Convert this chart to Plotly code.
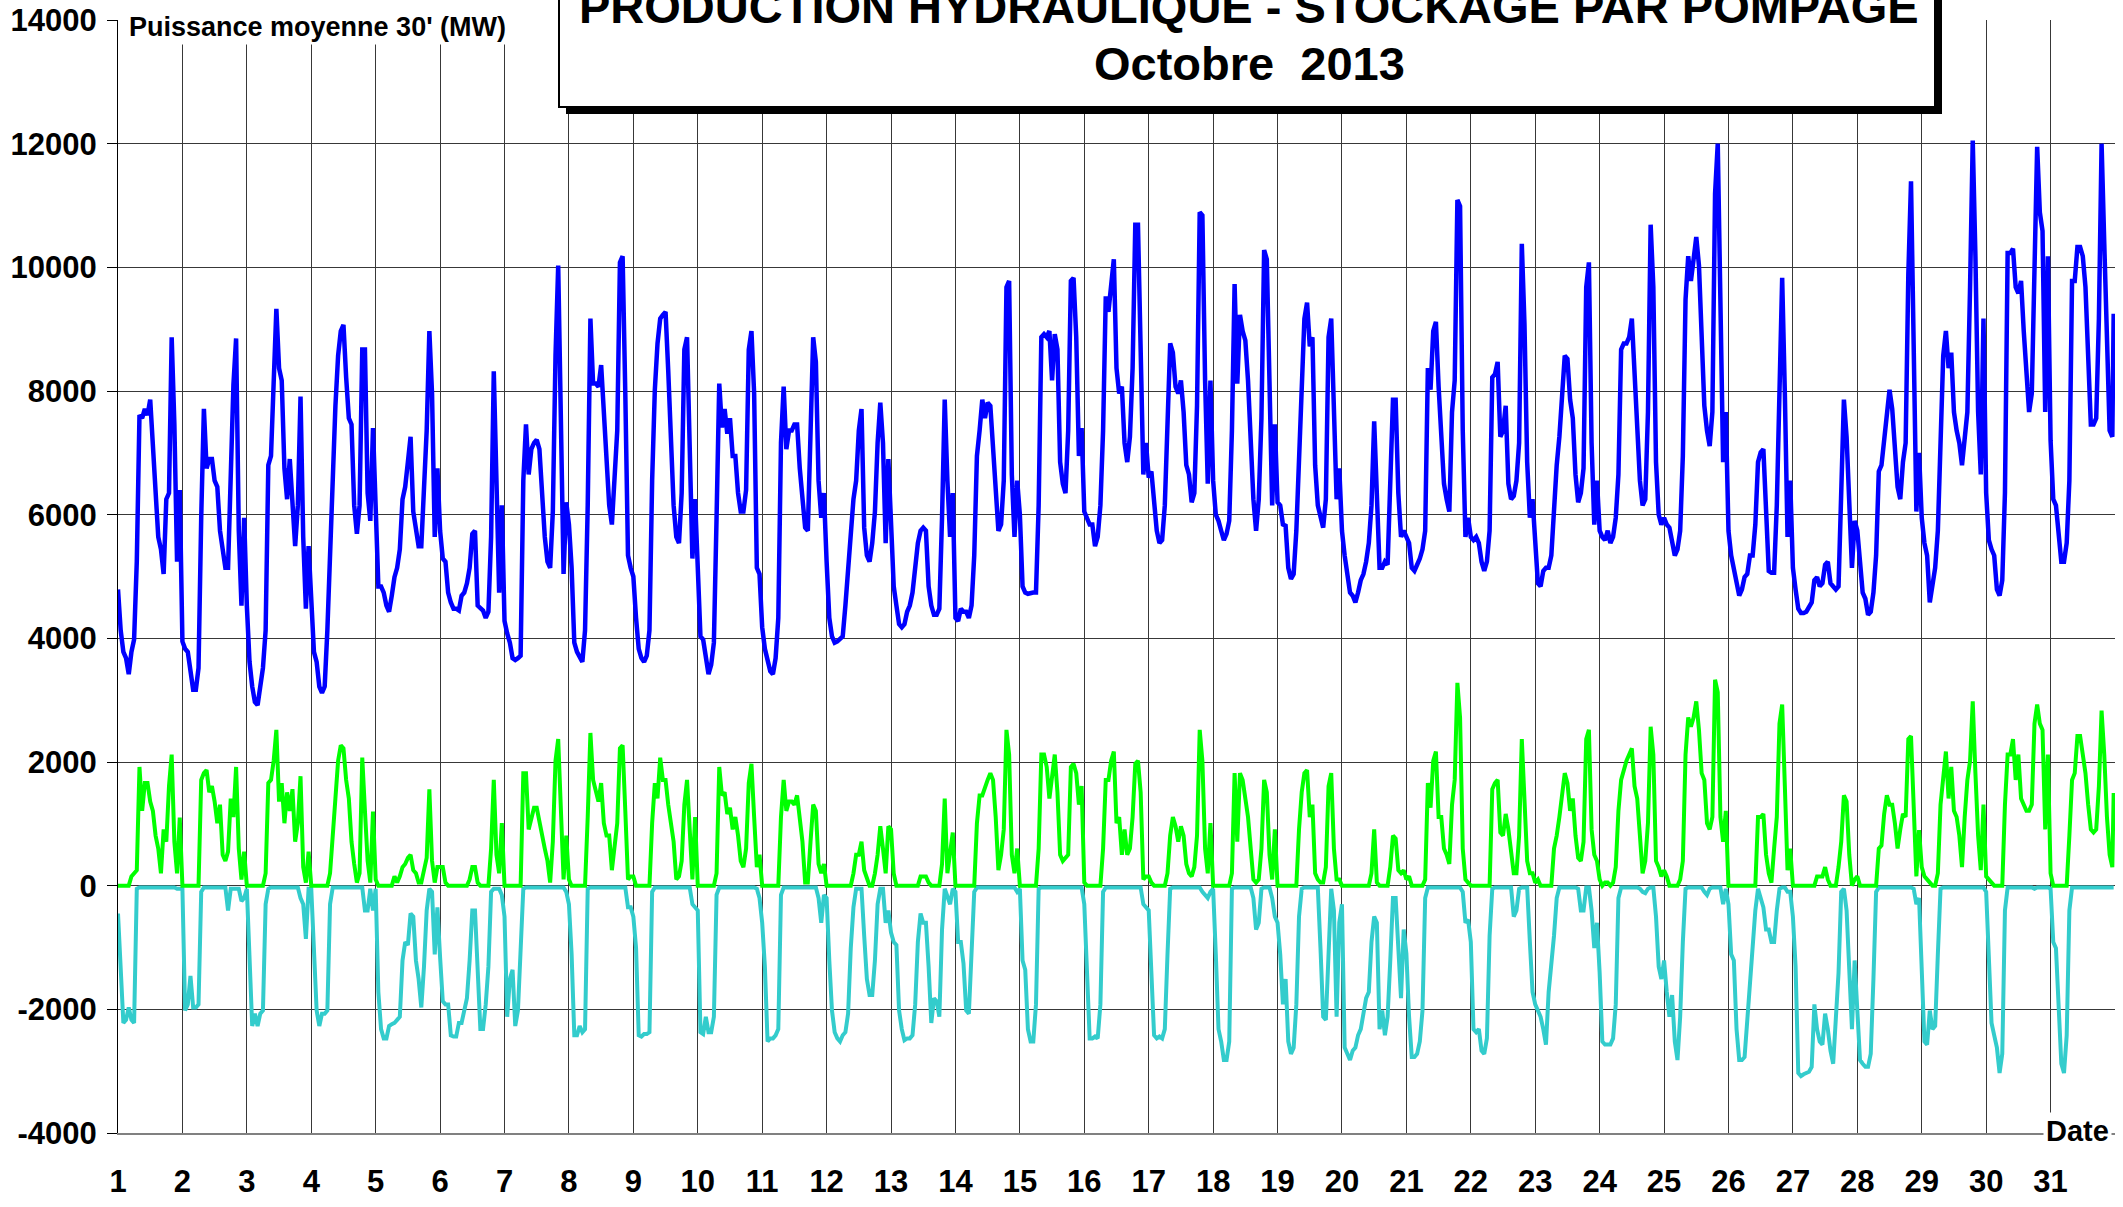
import plotly.graph_objects as go

# Octobre 2013 - valeurs horaires (MW), une ligne par jour, 0h..23h
jours = list(range(1, 32))
heures = list(range(24))

hydraulique_mw = [
    [4790, 4130, 3780, 3680, 3420, 3780, 3980, 5240, 7610, 7560, 7710, 7610, 7860, 7160, 6250, 5640, 5440, 5040, 6250, 6350, 8870, 7460, 5240, 6400],
    [3950, 3830, 3780, 3520, 3170, 3170, 3520, 5950, 7710, 6750, 6900, 6900, 6550, 6450, 5740, 5440, 5140, 5140, 7000, 8100, 8850, 5740, 4530, 5950],
    [4530, 3620, 3220, 2970, 2920, 3220, 3520, 4130, 6800, 6950, 7960, 9330, 8370, 8170, 6750, 6250, 6900, 6150, 5490, 6150, 7910, 5640, 4480, 5490],
    [4480, 3780, 3620, 3220, 3120, 3220, 4130, 5140, 6550, 7760, 8570, 8970, 9070, 8220, 7560, 7460, 6150, 5690, 6150, 8670, 8670, 6350, 5900, 7400],
    [6150, 4840, 4840, 4740, 4530, 4430, 4690, 4990, 5140, 5440, 6250, 6450, 6850, 7260, 6050, 5740, 5490, 5490, 6450, 7360, 8970, 7960, 5640, 6750],
    [5740, 5290, 5240, 4740, 4580, 4480, 4480, 4450, 4690, 4740, 4890, 5140, 5690, 5740, 4530, 4480, 4450, 4330, 4430, 5640, 8320, 6550, 4740, 6150],
    [4280, 4080, 3930, 3680, 3650, 3680, 3720, 6550, 7460, 6650, 7060, 7160, 7210, 7060, 6200, 5640, 5240, 5140, 6050, 8570, 10030, 7660, 5040, 6200],
    [5840, 5140, 3930, 3780, 3680, 3620, 4130, 6150, 9170, 8120, 8120, 8070, 8420, 7610, 6750, 6150, 5840, 6600, 7360, 10080, 10180, 7960, 5340, 5140],
    [5000, 4330, 3830, 3680, 3620, 3720, 4130, 6550, 8020, 8770, 9170, 9230, 9280, 8320, 6950, 6150, 5640, 5540, 6350, 8670, 8870, 7160, 5290, 6250],
    [4990, 4030, 3980, 3720, 3420, 3570, 3930, 5950, 8120, 7410, 7710, 7310, 7560, 6950, 6950, 6350, 6050, 6050, 6400, 8670, 8970, 7960, 5140, 5040],
    [4180, 3830, 3620, 3470, 3420, 3680, 4330, 7160, 8070, 7060, 7360, 7360, 7460, 7460, 6750, 6150, 5790, 5740, 7160, 8870, 8470, 6550, 5950, 6350],
    [5240, 4330, 4030, 3930, 3950, 3980, 4030, 4530, 5140, 5740, 6250, 6550, 7360, 7710, 5790, 5340, 5240, 5540, 6050, 7160, 7810, 7160, 5540, 6900],
    [5740, 4840, 4530, 4230, 4180, 4230, 4430, 4530, 4740, 5140, 5540, 5740, 5790, 5740, 4840, 4530, 4380, 4380, 4480, 5950, 7860, 6550, 5640, 6350],
    [4330, 4280, 4480, 4430, 4430, 4330, 4530, 5340, 6950, 7360, 7860, 7560, 7810, 7760, 7060, 6250, 5740, 5840, 6550, 9680, 9780, 6650, 5640, 6550],
    [6000, 4840, 4740, 4720, 4740, 4740, 4740, 6150, 8870, 8920, 8870, 8970, 8170, 8920, 8670, 6850, 6500, 6350, 7360, 9780, 9830, 8870, 6950, 7400],
    [6050, 5950, 5840, 5840, 5490, 5640, 6150, 7360, 9530, 9280, 9780, 10130, 8370, 7960, 8070, 7160, 6850, 7260, 8370, 10690, 10690, 8670, 6650, 7160],
    [6600, 6700, 6250, 5740, 5540, 5590, 6150, 7360, 8770, 8620, 8070, 7960, 8170, 7660, 6800, 6650, 6200, 6350, 7760, 10890, 10840, 8170, 6500, 8170],
    [6550, 6000, 5900, 5740, 5590, 5690, 5900, 7360, 9730, 8120, 9230, 8970, 8820, 8170, 7160, 6250, 5740, 6250, 7560, 10280, 10130, 8070, 6150, 7460],
    [6200, 6150, 5840, 5820, 5140, 4960, 5040, 5740, 6850, 8170, 9170, 9430, 8720, 8870, 6800, 6150, 5950, 5790, 6250, 8870, 9170, 7660, 6250, 6750],
    [5740, 5340, 5040, 4740, 4690, 4580, 4740, 4940, 5040, 5240, 5540, 6150, 7510, 6150, 5140, 5140, 5240, 5190, 6550, 7860, 7860, 6350, 5640, 5740],
    [5640, 5540, 5140, 5090, 5190, 5290, 5440, 5740, 8370, 8020, 8970, 9120, 8070, 7360, 6500, 6250, 6050, 7660, 8170, 11090, 10990, 7360, 5640, 5950],
    [5640, 5590, 5640, 5540, 5240, 5090, 5240, 5740, 8220, 8270, 8470, 7260, 7360, 7760, 6500, 6250, 6300, 6550, 7160, 10380, 9070, 6850, 5950, 6250],
    [5540, 4890, 4840, 5090, 5140, 5140, 5340, 6250, 6800, 7260, 7960, 8570, 8520, 7860, 7560, 6650, 6200, 6350, 6750, 9680, 10080, 7160, 5840, 6550],
    [5740, 5640, 5590, 5740, 5540, 5640, 5950, 6650, 8670, 8770, 8770, 8870, 9170, 8270, 7460, 6550, 6150, 6250, 7660, 10690, 9680, 6850, 6000, 5840],
    [5950, 5840, 5790, 5540, 5340, 5440, 5740, 6950, 9480, 10180, 9780, 10130, 10490, 10030, 8970, 7760, 7360, 7110, 7660, 11190, 12000, 9170, 6850, 7660],
    [5740, 5340, 5140, 4940, 4690, 4790, 4990, 5040, 5340, 5340, 5840, 6850, 7010, 7060, 5950, 5090, 5060, 5060, 6150, 8170, 9830, 7960, 5640, 6550],
    [5140, 4790, 4480, 4410, 4410, 4430, 4510, 4580, 4940, 4990, 4840, 4890, 5190, 5240, 4890, 4840, 4790, 4840, 6150, 7860, 7260, 6050, 5140, 5900],
    [5740, 5240, 4740, 4640, 4380, 4430, 4740, 5340, 6700, 6800, 7160, 7510, 8020, 7710, 7060, 6450, 6250, 6850, 7160, 9880, 11390, 8670, 6050, 7000],
    [5950, 5540, 5340, 4580, 4840, 5140, 5740, 7460, 8570, 8970, 8370, 8620, 7660, 7360, 7160, 6800, 7260, 7660, 9680, 12050, 10180, 7660, 6650, 9170],
    [6350, 5590, 5440, 5340, 4790, 4690, 4940, 6350, 10230, 10230, 10300, 9680, 9580, 9780, 8970, 8170, 7660, 7960, 10440, 11950, 10890, 10590, 7660, 10180],
    [7200, 6250, 6150, 5740, 5240, 5240, 5540, 6550, 9780, 9780, 10330, 10330, 10180, 9680, 8570, 7460, 7460, 7560, 9170, 12000, 10390, 8670, 7360, 7260],
]

turbinage_step_mw = [
    [0, 0, 0, 0, 0, 150, 200, 250, 1920, 1210, 1660, 1660, 1360, 1210, 810, 600, 200, 910, 710, 1610, 2120, 710, 200, 1100],
    [0, 0, 0, 0, 0, 0, 0, 1710, 1820, 1870, 1510, 1610, 1360, 1010, 1310, 500, 400, 550, 1410, 1110, 1920, 600, 100, 550],
    [0, 0, 0, 0, 0, 0, 0, 200, 1660, 1710, 2020, 2520, 1360, 1660, 1010, 1510, 1210, 1560, 710, 1010, 1770, 300, 50, 550],
    [0, 0, 0, 0, 0, 0, 0, 200, 710, 1410, 2020, 2270, 2220, 1710, 1410, 710, 350, 50, 200, 2070, 1210, 400, 50, 1200],
    [100, 0, 0, 0, 0, 0, 0, 150, 50, 150, 300, 350, 450, 500, 250, 200, 50, 50, 250, 450, 1560, 400, 50, 300],
    [300, 300, 50, 0, 0, 0, 0, 0, 0, 0, 0, 100, 300, 300, 50, 0, 0, 0, 0, 600, 1710, 500, 200, 1010],
    [0, 0, 0, 0, 0, 0, 0, 1820, 1820, 910, 1110, 1260, 1260, 1010, 810, 600, 400, 50, 710, 2020, 2370, 1310, 100, 810],
    [100, 0, 0, 0, 0, 0, 0, 1110, 2470, 1710, 1510, 1360, 1660, 1010, 810, 810, 250, 600, 1010, 2220, 2270, 1210, 100, 150],
    [150, 0, 0, 0, 0, 0, 0, 1010, 1660, 1410, 2070, 1710, 1710, 1310, 1010, 710, 100, 150, 400, 1310, 1710, 910, 100, 1110],
    [0, 0, 0, 0, 0, 0, 0, 200, 1920, 1460, 1510, 1160, 1260, 910, 1110, 810, 400, 300, 600, 1660, 1970, 1110, 300, 500],
    [0, 0, 0, 0, 0, 0, 0, 1110, 1710, 1210, 1360, 1360, 1310, 1460, 1110, 710, 50, 50, 710, 1310, 1210, 350, 200, 350],
    [0, 0, 0, 0, 0, 0, 0, 0, 0, 0, 200, 500, 500, 710, 250, 100, 0, 0, 200, 500, 960, 600, 200, 960],
    [910, 200, 0, 0, 0, 0, 0, 0, 0, 0, 0, 150, 150, 150, 50, 0, 0, 0, 0, 350, 1410, 200, 600, 860],
    [0, 0, 0, 0, 0, 0, 0, 0, 1010, 1460, 1460, 1610, 1710, 1820, 1710, 1110, 250, 500, 910, 2520, 2120, 500, 200, 600],
    [0, 0, 0, 0, 0, 0, 0, 600, 2120, 2120, 1920, 1410, 1820, 2120, 1510, 500, 400, 450, 500, 1920, 1970, 1820, 1310, 1610],
    [50, 0, 0, 0, 0, 0, 0, 600, 1710, 1710, 2020, 2170, 1010, 1110, 500, 910, 500, 600, 1110, 1970, 2020, 1510, 100, 150],
    [150, 50, 0, 0, 0, 0, 0, 200, 810, 1110, 960, 710, 960, 810, 350, 200, 150, 300, 810, 2520, 2020, 600, 200, 1010],
    [0, 0, 0, 0, 0, 0, 0, 200, 1820, 710, 1820, 1710, 1410, 1110, 600, 100, 50, 100, 600, 1710, 1510, 500, 100, 910],
    [0, 0, 0, 0, 0, 0, 0, 0, 910, 1510, 1820, 1870, 1110, 1310, 200, 100, 50, 50, 300, 1610, 1820, 600, 100, 100],
    [0, 0, 0, 0, 0, 0, 0, 0, 0, 0, 0, 200, 910, 50, 0, 0, 0, 0, 300, 810, 760, 250, 200, 250],
    [100, 150, 0, 0, 0, 0, 0, 100, 1660, 1260, 2020, 2170, 1110, 1110, 600, 500, 350, 1310, 1710, 3280, 2720, 600, 100, 50],
    [0, 0, 0, 0, 0, 0, 0, 0, 1560, 1660, 1710, 860, 810, 1160, 910, 500, 200, 200, 810, 2370, 1410, 400, 200, 200],
    [50, 100, 0, 0, 0, 0, 0, 600, 810, 1110, 1460, 1820, 1660, 1210, 1410, 810, 450, 400, 710, 2370, 2520, 910, 500, 400],
    [100, 0, 50, 50, 0, 50, 300, 1210, 1710, 1870, 2020, 2120, 2220, 1610, 1410, 810, 200, 400, 1010, 2570, 2120, 400, 300, 150],
    [250, 150, 0, 0, 0, 0, 100, 400, 2120, 2720, 2570, 2720, 2980, 2520, 1820, 1710, 1010, 910, 1110, 3330, 3130, 1110, 710, 1210],
    [0, 0, 0, 0, 0, 0, 0, 0, 0, 0, 0, 1110, 1110, 1160, 500, 200, 50, 600, 1110, 2620, 2930, 1610, 250, 600],
    [0, 0, 0, 0, 0, 0, 0, 0, 0, 150, 150, 150, 300, 100, 0, 0, 0, 300, 710, 1460, 1360, 500, 0, 100],
    [150, 0, 0, 0, 0, 0, 0, 0, 600, 650, 1160, 1460, 1310, 1310, 1010, 600, 910, 1160, 1110, 2370, 2420, 1110, 150, 900],
    [300, 150, 100, 50, 0, 0, 200, 1310, 1710, 2170, 1410, 1920, 1210, 1110, 810, 300, 1110, 1710, 2020, 2980, 1820, 810, 250, 1310],
    [150, 100, 50, 0, 0, 0, 0, 1310, 2120, 2120, 2370, 1710, 2120, 1410, 1310, 1210, 1210, 1310, 2620, 2930, 2620, 2520, 910, 2120],
    [200, 0, 0, 0, 0, 0, 0, 810, 1710, 1820, 2420, 2420, 2120, 1820, 1310, 910, 860, 910, 1610, 2830, 2120, 1110, 500, 300],
]

pompage_step_mw = [
    [-450, -1510, -2220, -2170, -1970, -2170, -2220, -50, -30, -30, -30, -30, -30, -30, -30, -30, -30, -30, -30, -30, -30, -30, -50, -50],
    [-50, -2020, -1920, -1460, -1970, -1970, -1920, -100, -30, -30, -30, -30, -30, -30, -30, -30, -30, -400, -50, -50, -50, -50, -250, -200],
    [-50, -1410, -2270, -2070, -2270, -2070, -2020, -300, -50, -30, -30, -30, -30, -30, -30, -30, -30, -30, -30, -30, -200, -300, -860, -50],
    [-50, -910, -2020, -2270, -2070, -2070, -2020, -300, -30, -30, -30, -30, -30, -30, -30, -30, -30, -30, -30, -30, -400, -400, -50, -400],
    [-50, -1720, -2320, -2470, -2470, -2270, -2240, -2220, -2170, -2120, -1210, -910, -960, -450, -500, -1210, -1510, -1970, -1310, -400, -50, -100, -1110, -350],
    [-1160, -1870, -1920, -1920, -2420, -2440, -2440, -2220, -2220, -2020, -1820, -1210, -400, -400, -1210, -2320, -2320, -1920, -1310, -100, -50, -50, -50, -150],
    [-500, -2120, -1510, -1360, -2270, -2020, -910, -50, -30, -30, -30, -30, -30, -30, -30, -30, -30, -30, -30, -30, -30, -30, -30, -100],
    [-300, -1110, -2420, -2420, -2270, -2370, -2320, -50, -30, -30, -30, -30, -30, -30, -30, -30, -30, -30, -30, -30, -30, -30, -350, -350],
    [-500, -1000, -2420, -2440, -2400, -2400, -2370, -100, -30, -30, -30, -30, -30, -30, -30, -30, -30, -30, -30, -30, -30, -30, -300, -350],
    [-400, -2370, -2400, -2120, -2370, -2370, -2120, -150, -30, -30, -30, -30, -30, -30, -30, -30, -30, -30, -30, -30, -30, -30, -50, -200],
    [-600, -1310, -2520, -2470, -2470, -2420, -2320, -150, -30, -30, -30, -30, -30, -30, -30, -30, -30, -30, -30, -30, -30, -200, -600, -150],
    [-200, -1210, -2020, -2370, -2470, -2520, -2420, -2370, -2070, -1010, -350, -50, -50, -50, -810, -1510, -1770, -1770, -1210, -300, -50, -50, -600, -400],
    [-760, -910, -960, -2020, -2320, -2500, -2470, -2470, -2420, -1920, -910, -450, -600, -600, -1310, -2220, -1820, -1870, -2120, -710, -50, -200, -300, -50],
    [-100, -910, -910, -1260, -2020, -2070, -1110, -100, -30, -30, -30, -30, -30, -30, -30, -30, -30, -30, -30, -30, -30, -30, -30, -100],
    [-50, -1210, -1360, -2320, -2520, -2520, -1920, -50, -30, -30, -30, -30, -30, -30, -30, -30, -30, -30, -30, -30, -30, -30, -30, -30],
    [-300, -1410, -2470, -2470, -2440, -2470, -1920, -100, -30, -30, -30, -30, -30, -30, -30, -30, -30, -30, -30, -30, -30, -30, -300, -350],
    [-400, -1410, -2420, -2470, -2440, -2470, -2320, -1110, -50, -30, -30, -30, -30, -30, -30, -30, -30, -30, -30, -30, -100, -150, -200, -100],
    [-50, -1110, -2320, -2520, -2820, -2820, -2520, -50, -30, -30, -30, -30, -30, -30, -30, -200, -710, -600, -50, -30, -30, -30, -200, -500],
    [-600, -1110, -1920, -1510, -2520, -2720, -2620, -1920, -500, -50, -30, -30, -30, -30, -30, -30, -1010, -2120, -2170, -910, -50, -400, -2120, -600],
    [-300, -2620, -2720, -2820, -2670, -2620, -2420, -2320, -2070, -1820, -1720, -910, -500, -600, -2320, -2020, -2420, -2120, -1210, -200, -200, -1010, -1820, -710],
    [-1100, -2120, -2770, -2770, -2720, -2520, -2020, -200, -30, -30, -30, -30, -30, -30, -30, -30, -30, -30, -30, -30, -30, -100, -600, -550],
    [-910, -2320, -2370, -2320, -2670, -2720, -2470, -810, -50, -30, -30, -30, -30, -30, -30, -30, -500, -400, -50, -30, -30, -30, -910, -1720],
    [-1920, -2020, -2120, -2320, -2570, -1720, -1310, -810, -200, -30, -30, -30, -30, -30, -30, -30, -50, -400, -400, -30, -30, -400, -1010, -600],
    [-1410, -2520, -2570, -2570, -2570, -2470, -1920, -200, -30, -30, -30, -30, -30, -30, -30, -50, -100, -120, -50, -30, -30, -500, -1310, -1510],
    [-1210, -1720, -2120, -1770, -2520, -2820, -2120, -910, -50, -30, -30, -30, -30, -30, -30, -100, -150, -50, -30, -30, -30, -30, -300, -50],
    [-300, -1110, -1210, -2320, -2820, -2820, -2770, -2120, -1510, -910, -400, -50, -200, -350, -710, -710, -910, -910, -400, -50, -30, -30, -100, -100],
    [-500, -1310, -3030, -3080, -3050, -3030, -3010, -2930, -1920, -2320, -2520, -2570, -2070, -2320, -2670, -2880, -2120, -1410, -100, -50, -400, -1410, -2320, -1210],
    [-1920, -2820, -2880, -2930, -2930, -2720, -1510, -100, -30, -30, -30, -30, -30, -30, -30, -30, -30, -30, -30, -30, -30, -50, -300, -200],
    [-1500, -2520, -2570, -2020, -2320, -2270, -1110, -50, -30, -30, -30, -30, -30, -30, -30, -30, -30, -30, -30, -30, -30, -30, -30, -30],
    [-100, -1010, -2220, -2420, -2620, -3030, -2720, -400, -30, -30, -30, -30, -30, -30, -30, -30, -30, -30, -50, -30, -30, -30, -30, -30],
    [-50, -910, -1010, -2120, -2880, -3030, -2420, -400, -30, -30, -30, -30, -30, -30, -30, -30, -30, -30, -30, -30, -30, -30, -30, -30],
]

# derniere demi-heure du 31 (23h30) : hydraulique, turbinage, pompage
fin_31_octobre = [9250, 1500, -30]

y_ticks = [-4000, -2000, 0, 2000, 4000, 6000, 8000, 10000, 12000, 14000]
y_tick_labels = ["-4000", "-2000", "0", "2000", "4000", "6000", "8000", "10000", "12000", "14000"]

# geometrie de la page (px)
W, H = 2123, 1207
PLOT_L, PLOT_R, PLOT_T, PLOT_B = 118, 2115, 20, 1133
FONT = "Liberation Sans, Arial, sans-serif"
GRID = "#383838"


def px_x(px: float) -> float:
    return (px - PLOT_L) / (PLOT_R - PLOT_L)


def px_y(py: float) -> float:
    return (PLOT_B - py) / (PLOT_B - PLOT_T)


def flatten(rows, last):
    return [v for row in rows for v in row] + [last]


x_temps = [j + h / 24 for j in jours for h in heures] + [31 + 47 / 48]

fig = go.Figure()
fig.add_trace(go.Scatter(
    x=x_temps, y=flatten(pompage_step_mw, fin_31_octobre[2]),
    mode="lines", name="Pompage", line=dict(color="#33CCCC", width=4),
))
fig.add_trace(go.Scatter(
    x=x_temps, y=flatten(turbinage_step_mw, fin_31_octobre[1]),
    mode="lines", name="Turbinage STEP", line=dict(color="#00FF00", width=4),
))
fig.add_trace(go.Scatter(
    x=x_temps, y=flatten(hydraulique_mw, fin_31_octobre[0]),
    mode="lines", name="Hydraulique", line=dict(color="#0000FF", width=4.5),
))

# cadre du titre avec ombre portee
fig.add_shape(type="rect", xref="paper", yref="paper",
              x0=px_x(566), x1=px_x(1942), y0=px_y(114), y1=px_y(-30),
              fillcolor="black", line=dict(width=0), layer="above")
fig.add_shape(type="rect", xref="paper", yref="paper",
              x0=px_x(559), x1=px_x(1935), y0=px_y(107), y1=px_y(-30),
              fillcolor="white", line=dict(color="black", width=2), layer="above")

fig.add_annotation(text="PRODUCTION HYDRAULIQUE - STOCKAGE PAR POMPAGE",
                   xref="paper", yref="paper", x=px_x(1249), y=px_y(6),
                   xanchor="center", yanchor="middle", showarrow=False,
                   font=dict(family=FONT, size=47, color="black", weight="bold"))
fig.add_annotation(text="Octobre\u00a0 2013",
                   xref="paper", yref="paper", x=px_x(1249), y=px_y(63),
                   xanchor="center", yanchor="middle", showarrow=False,
                   font=dict(family=FONT, size=47, color="black", weight="bold"))
fig.add_annotation(text="Puissance moyenne 30' (MW)",
                   xref="paper", yref="paper", x=px_x(126), y=px_y(27),
                   xanchor="left", yanchor="middle", showarrow=False,
                   bgcolor="white", borderpad=2,
                   font=dict(family=FONT, size=27, color="black", weight="bold"))
fig.add_annotation(text="Date",
                   xref="paper", yref="paper", x=px_x(2112), y=px_y(1131),
                   xanchor="right", yanchor="middle", showarrow=False,
                   bgcolor="white", borderpad=2,
                   font=dict(family=FONT, size=29, color="black", weight="bold"))

fig.update_layout(
    width=W, height=H,
    margin=dict(l=PLOT_L, r=W - PLOT_R, t=PLOT_T, b=H - PLOT_B, pad=0),
    paper_bgcolor="white", plot_bgcolor="white",
    showlegend=False,
    font=dict(family=FONT, color="black"),
)
fig.update_xaxes(
    range=[1, 32], tickvals=jours, ticktext=[str(j) for j in jours],
    showgrid=True, gridcolor=GRID, gridwidth=1,
    showline=True, linecolor="#808080", linewidth=2,
    zeroline=False, ticks="", ticklabelstandoff=20, automargin=False,
    tickfont=dict(family=FONT, size=31, color="black", weight="bold"),
)
fig.update_yaxes(
    range=[-4000, 14000], tickvals=y_ticks, ticktext=y_tick_labels,
    showgrid=True, gridcolor=GRID, gridwidth=1,
    showline=True, linecolor="black", linewidth=1,
    zeroline=False, ticks="outside", ticklen=10, tickcolor="black",
    ticklabelstandoff=4, automargin=False,
    tickfont=dict(family=FONT, size=31, color="black", weight="bold"),
)

# la page html a une marge de 8 px par defaut : on la supprime
fig.write_html("out.html", config={"displayModeBar": False},
               post_script="document.body.style.margin='0';")
